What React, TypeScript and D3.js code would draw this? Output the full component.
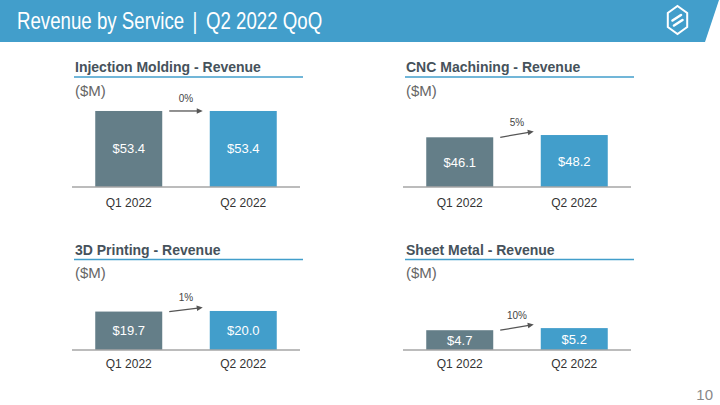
import React from "react";
import * as d3 from "d3";

const pageTitleParts = ["Revenue by Service", "|", "Q2 2022 QoQ"];
const panelTitles = [
  "Injection Molding - Revenue",
  "CNC Machining - Revenue",
  "3D Printing - Revenue",
  "Sheet Metal - Revenue",
];
const unitLabel = "($M)";
const periods = ["Q1 2022", "Q2 2022"];
const q1Values = [53.4, 46.1, 19.7, 4.7];
const q2Values = [53.4, 48.2, 20.0, 5.2];
const growthLabels = ["0%", "5%", "1%", "10%"];
const axisMax = [56.2, 74.2, 41.0, 19.0];
const pageNumber = "10";

const W = 720;
const H = 405;
const BLUE = "#429ECB";
const SLATE = "#647E88";
const TITLE_COLOR = "#46525B";
const FONT = "'Liberation Sans', Arial, sans-serif";

const colX = [72, 403];
const rows = [
  { titleY: 72, lineY: 77, unitY: 96, baseY: 187, catY: 207 },
  { titleY: 255, lineY: 259.5, unitY: 278, baseY: 350, catY: 367.5 },
];

function Panel({ i }: { i: number }) {
  const x0 = colX[i % 2];
  const r = rows[Math.floor(i / 2)];
  const x = d3
    .scaleBand<string>()
    .domain(periods)
    .range([x0, x0 + 228])
    .paddingInner(0.415)
    .paddingOuter(0.203);
  const y = d3.scaleLinear().domain([0, axisMax[i]]).range([r.baseY, r.baseY - 80]);
  const vals = [q1Values[i], q2Values[i]];
  const bw = x.bandwidth();
  const q1Right = (x(periods[0]) as number) + bw;
  const q2Left = x(periods[1]) as number;
  const ax1 = q1Right + 7;
  const ax2 = q2Left - 7;
  const ay1 = y(vals[0]);
  const ay2 = y(vals[1]) - (vals[1] > vals[0] ? 3.5 : 0);
  const midX = (ax1 + ax2) / 2;
  const midY = (ay1 + ay2) / 2;
  const ang = Math.atan2(ay2 - ay1, ax2 - ax1);
  const L = 6;
  const hw = 2.8;
  const bx = ax2 - L * Math.cos(ang);
  const by = ay2 - L * Math.sin(ang);
  const px = -Math.sin(ang) * hw;
  const py = Math.cos(ang) * hw;
  return (
    <g>
      <text x={x0 + 3} y={r.titleY} fontFamily={FONT} fontWeight="bold" fontSize={14} fill={TITLE_COLOR}>
        {panelTitles[i]}
      </text>
      <line x1={x0 + 2} x2={x0 + 231} y1={r.lineY} y2={r.lineY} stroke={BLUE} strokeWidth={1.5} />
      <text x={x0 + 3} y={r.unitY} fontFamily={FONT} fontSize={15} fill="#666">
        {unitLabel}
      </text>
      {periods.map((p, j) => (
        <g key={p}>
          <rect
            x={x(p)}
            y={y(vals[j])}
            width={bw}
            height={r.baseY - y(vals[j])}
            fill={j === 0 ? SLATE : BLUE}
          />
          <text
            x={(x(p) as number) + bw / 2}
            y={(y(vals[j]) + r.baseY) / 2 + 4.5}
            textAnchor="middle"
            fontFamily={FONT}
            fontSize={13}
            fill="#fff"
          >
            {"$" + d3.format(".1f")(vals[j])}
          </text>
          <text
            x={(x(p) as number) + bw / 2}
            y={r.catY}
            textAnchor="middle"
            fontFamily={FONT}
            fontSize={12}
            fill="#333"
          >
            {p}
          </text>
        </g>
      ))}
      <line x1={x0} x2={x0 + 228} y1={r.baseY} y2={r.baseY} stroke="#A6A6A6" strokeWidth={1.6} />
      <line x1={ax1} y1={ay1} x2={bx + Math.cos(ang)} y2={by + Math.sin(ang)} stroke="#555" strokeWidth={1.3} />
      <path d={`M${ax2},${ay2}L${bx + px},${by + py}L${bx - px},${by - py}Z`} fill="#555" />
      <text x={midX} y={midY - 8.5} textAnchor="middle" fontFamily={FONT} fontSize={10} fill="#444">
        {growthLabels[i]}
      </text>
    </g>
  );
}

function Logo() {
  const cx = 677.5;
  const cy = 20;
  const R = 14;
  const pts = d3.range(6).map((k) => {
    const a = (Math.PI / 3) * k - Math.PI / 2;
    return [cx + R * 0.8 * Math.cos(a), cy + R * Math.sin(a)];
  });
  return (
    <g stroke="#fff" fill="none" strokeWidth={2}>
      <path d={"M" + pts.map((p) => p.join(",")).join("L") + "Z"} strokeLinejoin="miter" />
      <path d={`M${cx - 5},${cy + 0.5}L${cx + 3.5},${cy - 5}`} strokeWidth={2.6} strokeLinecap="round" />
      <path d={`M${cx - 3.5},${cy + 5.5}L${cx + 5},${cy}`} strokeWidth={2.6} strokeLinecap="round" />
    </g>
  );
}

const titleX = [17, 195, 206];
const titleAnchor = ["start", "middle", "start"];

export default function App() {
  return (
    <svg
      width={W}
      height={H}
      viewBox={`0 0 ${W} ${H}`}
      style={{ position: "absolute", left: 0, top: 0, background: "#fff" }}
    >
      <rect width={W} height={H} fill="#fff" />
      <path d={`M0,0L719,0L705,42L0,42Z`} fill={BLUE} />
      {pageTitleParts.map((t, k) => (
        <text
          key={k}
          x={0}
          y={0}
          transform={`translate(${titleX[k]},29) scale(0.795,1)`}
          textAnchor={titleAnchor[k]}
          fontFamily={FONT}
          fontSize={23.5}
          fill="#fff"
        >
          {t}
        </text>
      ))}
      <Logo />
      {panelTitles.map((_, i) => (
        <Panel key={i} i={i} />
      ))}
      <text x={713} y={400} textAnchor="end" fontFamily={FONT} fontSize={15} fill="#888">
        {pageNumber}
      </text>
    </svg>
  );
}
